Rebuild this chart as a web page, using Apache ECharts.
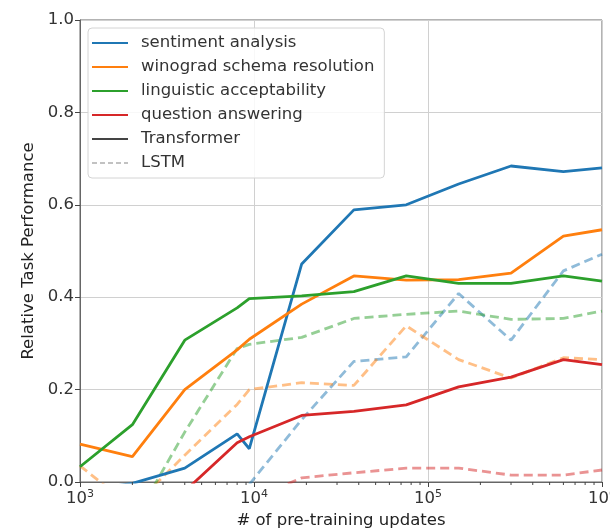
<!DOCTYPE html>
<html>
<head>
<meta charset="utf-8">
<script src="https://cdn.jsdelivr.net/npm/echarts@6/dist/echarts.min.js"></script>
<style>
  html, body { margin: 0; padding: 0; background: #fff; }
  #chart { width: 610px; height: 530px; }
</style>
</head>
<body>
<div id="chart"></div>
<script>
// Checkpoints (number of pre-training updates)
const updates = [1000, 2000, 4000, 8000, 9400, 18800, 37500, 75000, 150000, 300000, 600000, 1000000];

// Task names
const tasks = ['sentiment analysis', 'winograd schema resolution', 'linguistic acceptability', 'question answering'];

// Transformer zero-shot scores (relative task performance)
const trfSentiment  = [-0.02, -0.003, 0.030, 0.104, 0.072, 0.472, 0.589, 0.600, 0.645, 0.684, 0.672, 0.680];
const trfWinograd   = [0.082, 0.055, 0.200, 0.286, 0.309, 0.385, 0.446, 0.437, 0.438, 0.452, 0.532, 0.546];
const trfLinguistic = [0.033, 0.124, 0.307, 0.377, 0.397, 0.403, 0.412, 0.446, 0.430, 0.430, 0.446, 0.435];
const trfQA         = [null, null, -0.020, 0.085, 0.098, 0.144, 0.153, 0.167, 0.206, 0.227, 0.265, 0.254];

// LSTM zero-shot scores
const lstmSentiment  = [null, null, null, null, -0.005, 0.135, 0.261, 0.271, 0.408, 0.307, 0.457, 0.493];
const lstmWinograd   = [0.035, -0.055, 0.058, 0.168, 0.200, 0.215, 0.209, 0.338, 0.265, 0.225, 0.269, 0.265];
const lstmLinguistic = [null, -0.090, 0.108, 0.289, 0.298, 0.313, 0.354, 0.363, 0.370, 0.352, 0.354, 0.370];
const lstmQA         = [null, null, null, null, -0.040, 0.009, 0.020, 0.030, 0.030, 0.015, 0.015, 0.026];

// Axis ticks
const yTicks = [0, 0.2, 0.4, 0.6, 0.8, 1.0];
const minorXTicks = [2e3, 3e3, 4e3, 5e3, 6e3, 7e3, 8e3, 9e3,
                     2e4, 3e4, 4e4, 5e4, 6e4, 7e4, 8e4, 9e4,
                     2e5, 3e5, 4e5, 5e5, 6e5, 7e5, 8e5, 9e5];

const colors = ['#1f77b4', '#ff7f0e', '#2ca02c', '#d62728'];
const FONT = 'DejaVu Sans';
const FS = 16.5;

function pairs(ys) {
  return updates.map((x, i) => [x, ys[i]]);
}

const trf = [trfSentiment, trfWinograd, trfLinguistic, trfQA];
const lstm = [lstmSentiment, lstmWinograd, lstmLinguistic, lstmQA];

const series = [];

// LSTM curves: dashed, faded
lstm.forEach((ys, i) => {
  series.push({
    name: tasks[i] + ' (LSTM)',
    type: 'line',
    data: pairs(ys),
    symbol: 'none',
    clip: true,
    z: 2,
    lineStyle: { color: colors[i], width: 2.8, type: [9, 5], opacity: 0.5 },
    itemStyle: { color: colors[i] }
  });
});

// Transformer curves: solid
trf.forEach((ys, i) => {
  series.push({
    name: tasks[i],
    type: 'line',
    data: pairs(ys),
    symbol: 'none',
    clip: true,
    z: 3,
    lineStyle: { color: colors[i], width: 2.8 },
    itemStyle: { color: colors[i] }
  });
});

// Legend proxies for the model style
series.push({
  name: 'Transformer', type: 'line', data: [], symbol: 'none',
  lineStyle: { color: '#444', width: 2 }, itemStyle: { color: '#444' }
});
series.push({
  name: 'LSTM', type: 'line', data: [], symbol: 'none',
  lineStyle: { color: '#999', width: 2, type: [5, 3], opacity: 0.6 }, itemStyle: { color: '#999' }
});

// Minor ticks on the log axis
series.push({
  type: 'custom',
  data: minorXTicks.map(v => [v]),
  clip: false,
  silent: true,
  z: 5,
  renderItem: function (params, api) {
    const p = api.coord([api.value(0), 0]);
    return {
      type: 'line',
      shape: { x1: p[0], y1: p[1], x2: p[0], y2: p[1] + 3 },
      style: { stroke: '#444', lineWidth: 1 }
    };
  }
});

const chart = echarts.init(document.getElementById('chart'), null, { renderer: 'canvas' });

chart.setOption({
  animation: false,
  backgroundColor: '#fff',
  textStyle: { fontFamily: FONT },
  grid: {
    left: 80, right: 8, top: 20, bottom: 48,
    containLabel: false,
    outerBoundsMode: 'none',
    show: true, borderColor: '#666', borderWidth: 1, backgroundColor: 'transparent'
  },
  legend: {
    orient: 'vertical',
    left: 88, top: 28,
    data: tasks.concat(['Transformer', 'LSTM']),
    itemWidth: 36, itemHeight: 14, itemGap: 6,
    padding: [6, 10, 6, 3],
    itemStyle: { opacity: 0 },
    backgroundColor: 'rgba(255,255,255,0.85)',
    borderColor: '#d4d4d4', borderWidth: 1, borderRadius: 4,
    textStyle: { fontFamily: FONT, fontSize: FS, lineHeight: 18, color: '#333', padding: [0, 0, 0, 8] },
    selectedMode: false
  },
  xAxis: {
    type: 'log',
    logBase: 10,
    min: 1000, max: 1000000,
    name: '# of pre-training updates',
    nameLocation: 'middle',
    nameGap: 30,
    nameTextStyle: { fontFamily: FONT, fontSize: FS, color: '#222' },
    axisLine: { show: true, lineStyle: { color: '#666', width: 1 } },
    axisTick: { show: true, length: 5, lineStyle: { color: '#444' } },
    splitLine: { show: true, lineStyle: { color: '#d0d0d0', width: 1 } },
    axisLabel: {
      margin: 7,
      color: '#333',
      fontFamily: FONT,
      fontSize: FS,
      formatter: function (v) {
        return '10{sup|' + Math.round(Math.log10(v)) + '}';
      },
      rich: {
        sup: { fontSize: 11, fontFamily: FONT, color: '#333', padding: [0, 0, 9, 0] }
      }
    }
  },
  yAxis: {
    type: 'value',
    min: yTicks[0], max: yTicks[yTicks.length - 1], interval: 0.2,
    name: 'Relative Task Performance',
    nameLocation: 'middle',
    nameGap: 40,
    nameTextStyle: { fontFamily: FONT, fontSize: FS, color: '#222' },
    axisLine: { show: true, lineStyle: { color: '#666', width: 1 } },
    axisTick: { show: true, length: 5, lineStyle: { color: '#444' } },
    splitLine: { show: true, lineStyle: { color: '#d0d0d0', width: 1 } },
    axisLabel: {
      margin: 6,
      color: '#333',
      fontFamily: FONT,
      fontSize: FS,
      formatter: v => v.toFixed(1)
    }
  },
  series: series
});
</script>
</body>
</html>
